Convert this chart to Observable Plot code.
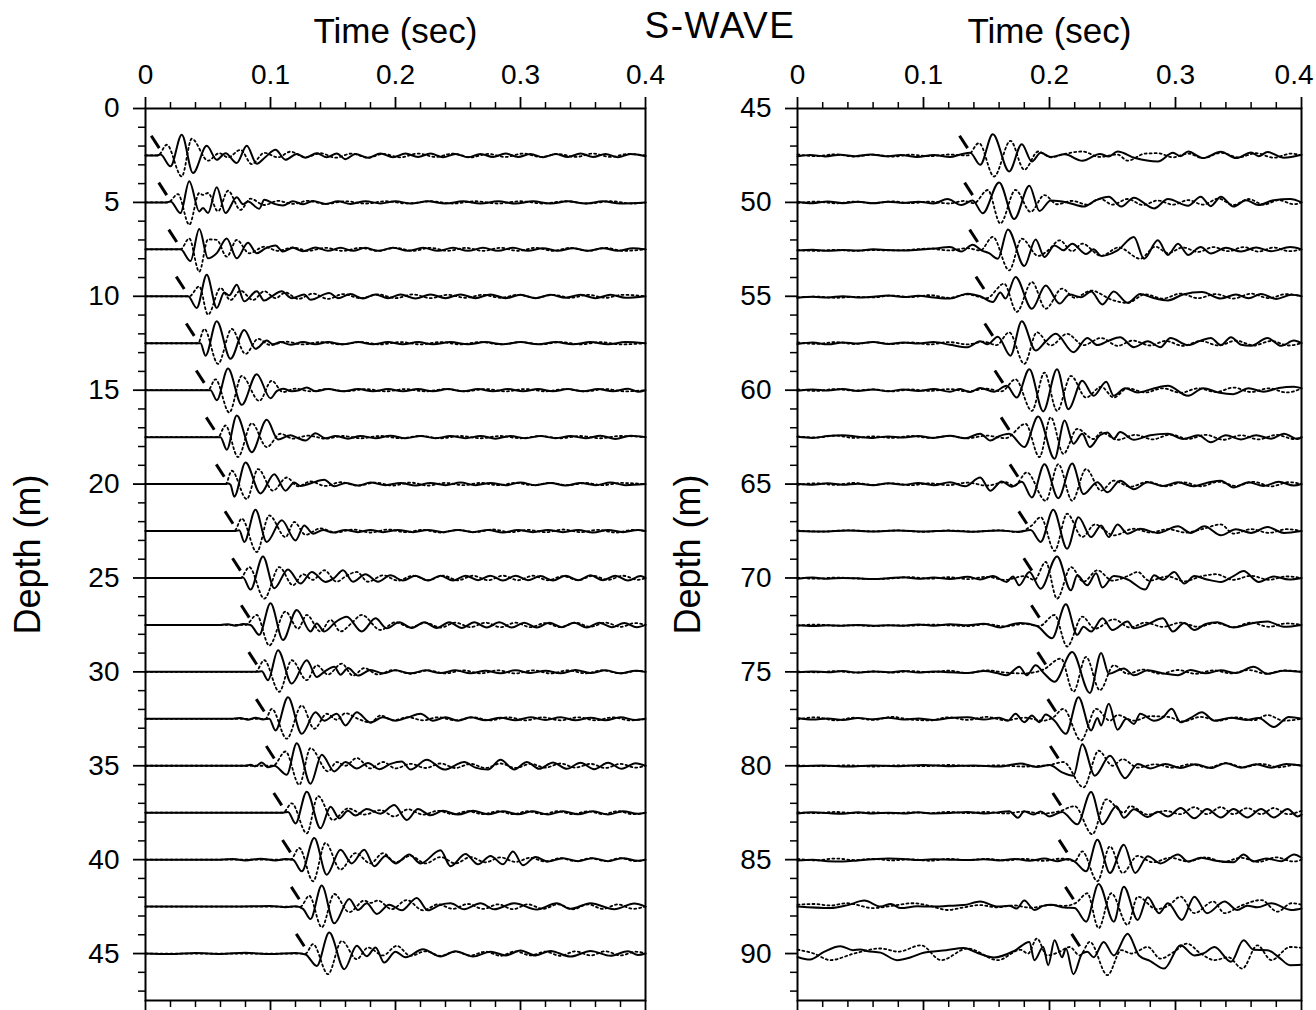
<!DOCTYPE html>
<html><head><meta charset="utf-8">
<script src="https://cdn.jsdelivr.net/npm/d3@7"></script>
<script src="https://cdn.jsdelivr.net/npm/@observablehq/plot@0.6"></script>
<style>
html,body{margin:0;padding:0;background:#fff;}
#wrap{position:relative;width:1316px;height:1010px;background:#fff;font-family:"Liberation Sans",Arial,Helvetica,sans-serif;}
#title{position:absolute;left:600px;width:240px;top:6px;text-align:center;font-size:37px;letter-spacing:1.5px;color:#000;line-height:40px;}
#left{position:absolute;left:0;top:0;}
#right{position:absolute;left:660px;top:0;}
</style></head>
<body>
<div id="wrap">
  <div id="right"></div>
  <div id="left"></div>
  <div id="title">S-WAVE</div>
</div>
<script>
// ---------------- DATA (time in ms : amplitude in cm of depth, + = up) ----------------
const leftDepths = [2.5,5,7.5,10,12.5,15,17.5,20,22.5,25,27.5,30,32.5,35,37.5,40,42.5,45];
const rightDepths = [47.5,50,52.5,55,57.5,60,62.5,65,67.5,70,72.5,75,77.5,80,82.5,85,87.5,90];
const leftArrivals = [11,17,25,31,39,47,55,63,70,76,83,89,95,103,109,116,123,127];
const rightArrivals = [135,139,143,148,155,163,168,175,182,186,192,197,205,207,209,214,219,224];

const leftSolid = [
"0:0 9:0 12:5 20:-58 29:110 38:-94 49:51 57:-23 64:12 73:-40 81:51 89:-44 96:-8 104:30 112:-23 121:8 128:-12 137:12 145:-10 153:10 160:-20 168:8 178:-12 188:10 198:-10 208:10 218:-8 228:10 238:-10 248:8 258:-10 268:8 278:-8 288:10 298:-8 308:8 318:-10 328:8 338:-8 348:10 358:-8 368:8 378:-10 388:8 400:-4",
"0:0 17:0 20:5 28:-57 35:112 43:-48 46:-30 50:-57 57:80 64:-57 73:27 78:-10 82:5 91:-34 95:14 103:-8 110:-16 118:6 126:-10 134:8 144:-8 154:6 164:-8 176:6 188:-6 200:6 212:-6 226:6 240:-6 254:6 268:-6 282:6 296:-6 310:6 324:-6 338:6 352:-6 366:6 380:-6 400:0",
"0:0 28:0 36:-62 43:108 50:-48 57:-20 65:58 73:-48 82:35 89:-21 96:5 104:20 110:-12 118:8 126:-10 136:10 146:-8 156:8 166:-8 176:8 186:-8 198:8 210:-8 222:8 234:-8 246:8 258:-8 270:8 282:-8 294:8 306:-8 318:6 330:-8 342:6 354:-8 366:6 378:-8 390:6 400:0",
"0:0 34:0 41:-62 49:115 57:-62 63:20 67:5 73:62 79:-27 89:27 95:-23 101:0 109:27 117:-10 127:10 132:-18 147:18 154:-10 164:12 174:-12 184:10 194:-10 204:10 216:-12 228:10 240:-10 252:10 264:-10 276:10 288:-10 300:8 312:-10 324:8 336:-8 348:8 360:-10 372:8 384:-8 400:0",
"0:0 44:0 48:-66 57:117 68:-83 79:71 88:-30 97:14 102:-6 108:6 116:-8 126:6 136:-6 146:6 158:-6 170:6 182:-6 194:6 206:-6 218:6 230:-6 244:6 258:-6 272:6 286:-6 300:6 314:-6 328:6 342:-6 356:6 370:-6 384:6 400:0",
"0:0 52:0 57:-53 66:115 77:-78 89:85 100:-43 105:-5 110:8 117:-6 123:0 129:14 136:-6 146:6 158:-6 170:6 182:-6 194:6 206:-6 218:6 230:-6 242:6 254:-6 266:6 278:-6 290:6 302:-6 314:6 326:-6 338:6 350:-6 362:6 374:-6 386:8 394:-8 400:0",
"0:0 60:0 65:-67 73:115 85:-80 97:92 106:-12 116:10 122:-6 128:-18 136:21 144:-6 152:6 162:-8 172:6 184:-6 196:8 208:-6 220:6 232:-6 244:6 256:-6 268:6 280:-8 292:6 304:-6 316:6 328:-6 340:6 352:-6 364:8 376:-10 388:8 400:0",
"0:0 64:0 66:3 68:-3 71:-67 80:115 92:-50 103:53 112:-35 119:9 124:-10 133:6 143:23 151:-12 160:6 170:-8 180:8 192:-6 204:6 216:-8 228:6 240:-6 252:8 264:-6 276:6 288:-6 300:8 312:-6 324:6 336:-8 348:6 360:-6 372:8 384:-6 400:0",
"0:0 72:0 75:4 79:-58 88:113 97:-58 109:57 120:-50 127:30 134:-14 142:6 150:-8 160:6 170:-6 180:6 190:-6 202:6 214:-6 226:6 238:-6 250:6 262:-6 274:6 286:-8 298:6 310:-6 322:6 334:-6 346:6 358:-8 370:6 382:-6 394:6 400:0",
"0:0 76:0 78:3 84:-62 94:115 103:-55 114:45 124:-30 133:32 144:-21 151:0 158:41 166:-20 176:20 186:-20 196:14 206:-14 216:12 226:-14 236:12 246:-14 256:12 266:-12 276:12 286:-14 296:12 306:-12 316:10 326:-14 336:12 346:-12 356:14 366:-12 376:12 386:-14 396:10 400:0",
"0:0 60:0 66:4 72:-4 78:5 84:0 91:-53 100:115 110:-80 121:80 132:-35 137:8 143:-35 152:15 161:44 173:-35 184:35 193:-18 203:14 213:-16 223:14 233:-16 243:14 253:-16 263:14 273:-14 283:14 293:-14 303:12 313:-14 323:12 333:-12 343:12 353:-14 363:12 373:-12 383:10 393:-12 400:0",
"0:0 90:0 93:3 98:-44 106:115 117:-62 129:62 137:-27 144:5 151:27 156:-15 162:20 170:-20 180:10 190:-8 200:8 212:-8 224:8 236:-6 248:8 260:-8 272:6 284:-8 296:8 308:-6 320:6 332:-8 344:10 356:-6 368:8 380:-8 392:6 400:0",
"0:0 70:0 76:5 82:-5 88:6 94:-3 99:0 104:-62 114:115 125:-80 136:35 143:-10 153:27 160:-35 169:35 180:-20 190:8 200:-10 210:8 220:27 230:-10 240:8 250:-10 260:8 272:-8 284:6 296:-8 308:8 320:-6 332:8 344:-8 356:6 368:-8 380:8 392:-6 400:0",
"0:0 80:0 84:5 88:-3 93:18 98:-8 103:0 113:-48 121:120 132:-96 141:58 151:-30 160:20 169:-15 178:15 187:-18 196:10 205:23 212:-20 225:32 239:-20 255:20 264:-10 274:-20 284:32 295:-20 305:20 315:-16 326:18 337:-16 348:16 359:-18 370:16 381:-16 392:14 400:0",
"0:0 110:0 114:4 120:-57 129:112 140:-83 148:32 155:-30 162:10 168:-15 177:20 188:-5 199:41 209:-39 218:20 228:-14 238:10 250:-10 262:10 274:-8 286:8 298:-8 310:8 322:-10 334:8 346:-8 358:8 370:-10 382:8 394:-6 400:0",
"0:0 60:0 70:4 80:-4 92:5 104:-4 112:4 118:0 125:-62 135:115 145:-80 156:53 165:-20 175:53 183:-35 192:20 200:-20 211:27 220:-20 236:50 244:-35 256:30 266:-25 276:20 286:-25 294:44 302:-30 312:14 322:-10 334:8 346:-8 358:8 370:-8 382:8 394:-6 400:0",
"0:0 70:0 100:3 112:-3 120:2 126:-12 132:-66 141:112 151:-89 163:41 170:-18 177:18 185:-39 195:10 205:-20 217:46 226:-20 236:10 244:18 255:-14 268:18 279:-14 295:18 313:-16 329:18 340:-12 356:18 375:-14 391:16 400:0",
"0:0 20:-3 40:3 60:-2 80:4 100:-3 120:3 128:-5 137:-66 147:112 159:-83 169:41 177:-14 184:32 191:-48 200:10 208:-20 222:23 236:-16 248:12 262:-16 276:10 288:-10 300:16 312:-10 324:14 340:-16 356:14 372:-12 386:12 394:-8 400:0"
];

const leftDotted = [
"0:0 10:0 17:57 29:-112 37:89 50:-28 59:12 66:-10 76:30 85:-46 95:14 106:-10 116:20 128:-10 140:12 152:-12 165:10 178:-12 190:8 204:-10 218:10 232:-8 246:10 260:-10 274:8 288:-8 302:10 316:-8 330:8 344:-8 358:10 372:-8 386:8 400:0",
"0:0 18:0 26:44 35:-119 43:50 46:40 50:50 58:-48 66:62 76:-40 84:20 95:-14 106:8 118:-8 130:8 144:-8 160:6 176:-6 192:6 210:-6 228:6 246:-6 264:6 282:-6 300:6 318:-6 336:6 354:-6 372:6 390:-6 400:0",
"0:0 28:0 35:58 43:-119 50:53 57:50 65:-39 73:50 83:-21 95:14 106:-8 118:10 130:-8 144:8 158:-8 172:8 186:-8 200:8 214:-8 228:8 242:-8 256:8 270:-8 284:8 298:-8 312:8 326:-8 340:8 354:-8 368:8 382:-8 400:0",
"0:0 35:0 43:53 50:-98 60:44 68:-20 76:30 86:-20 95:27 104:-10 112:20 122:-14 134:14 146:-14 158:12 172:-10 186:10 200:-10 214:10 228:-10 242:8 256:-8 270:8 284:-8 298:8 312:-8 326:8 340:-8 354:8 368:-8 382:8 400:0",
"0:0 42:0 47:76 58:-110 69:76 80:-57 90:23 100:-10 112:8 126:-6 140:6 156:-6 172:6 188:-6 204:6 220:-6 236:6 252:-6 268:6 284:-6 300:6 316:-6 332:6 348:-6 364:6 380:-6 400:0",
"0:0 50:0 56:58 67:-119 77:76 91:-57 101:50 110:-10 120:8 132:-6 146:6 160:-6 176:6 192:-6 208:6 224:-6 240:6 256:-6 272:6 288:-6 304:6 320:-6 336:6 352:-6 368:6 384:-6 400:0",
"0:0 58:0 64:62 74:-106 85:74 97:-53 108:18 118:-8 130:8 144:-8 158:6 172:-6 188:6 204:-6 220:6 236:-6 252:6 268:-6 284:6 300:-6 316:6 332:-6 348:6 364:-6 380:6 400:0",
"0:0 64:0 69:71 81:-80 90:80 102:-35 113:35 122:-12 132:14 144:-10 156:10 170:-8 184:8 198:-8 212:8 226:-8 240:6 254:-6 268:6 282:-6 296:6 310:-6 324:6 338:-6 352:6 366:-6 380:6 400:0",
"0:0 71:0 77:66 89:-112 99:83 112:-32 119:48 128:-20 140:14 152:-8 166:8 180:-8 194:8 208:-6 222:6 236:-8 250:6 264:-6 278:8 292:-6 306:6 320:-6 334:8 348:-6 362:6 376:-8 390:6 400:0",
"0:0 76:0 83:58 95:-110 107:58 118:-39 126:20 134:-10 143:41 153:-20 160:8 169:32 178:-20 190:14 202:-14 214:12 226:-12 238:12 250:-12 262:12 274:-12 286:12 298:-12 310:12 322:-12 334:10 346:-12 358:12 370:-10 382:12 394:-10 400:0",
"0:0 80:0 89:53 99:-110 112:71 122:-20 129:53 140:-35 148:27 156:-35 165:10 173:53 188:-27 200:14 212:-14 224:12 236:-14 248:12 260:-12 272:12 284:-12 296:12 308:-12 320:10 332:-12 344:12 356:-10 368:12 380:-10 392:10 400:0",
"0:0 88:0 95:62 107:-106 117:62 129:-44 137:35 146:-14 157:44 166:-20 175:20 186:-14 198:10 212:-10 226:8 240:-8 254:8 268:-8 282:8 296:-8 310:8 324:-8 338:8 352:-8 366:8 380:-8 394:6 400:0",
"0:0 96:0 101:53 113:-106 125:71 135:-53 145:27 153:-5 160:30 170:0 180:-20 188:18 198:-8 210:8 222:-8 234:8 248:-8 262:8 276:-8 290:8 304:-8 318:8 332:-8 346:8 360:-8 374:8 388:-8 400:0",
"0:0 102:0 112:76 123:-101 132:94 146:-30 153:20 160:0 169:41 180:-14 190:20 200:-14 212:10 224:-12 236:12 248:-12 260:10 272:-12 284:12 296:-12 308:10 320:-10 332:12 344:-10 356:10 368:-12 380:10 392:-10 400:0",
"0:0 110:0 117:50 129:-110 138:89 150:-39 162:23 175:-10 188:14 199:-20 210:18 222:-10 234:10 246:-8 258:8 270:-8 282:8 294:-8 306:8 318:-8 330:8 342:-8 354:8 366:-8 378:8 390:-8 400:0",
"0:0 116:0 123:62 134:-115 144:89 156:-53 168:35 180:-20 190:35 200:-14 212:20 224:-20 236:14 248:-20 260:14 272:-14 284:12 296:-12 308:10 320:-10 332:8 344:-8 356:8 368:-8 380:8 392:-8 400:0",
"0:0 124:0 131:58 141:-110 151:67 163:-30 175:32 180:20 186:32 197:-14 209:35 222:-20 234:12 246:-12 258:14 270:-12 282:12 294:-14 306:12 318:-12 330:12 342:-14 354:12 366:-12 378:12 390:-12 400:0",
"0:0 128:0 134:50 146:-110 157:67 169:-30 178:32 190:-10 201:41 212:-12 224:12 236:-12 248:10 260:-10 272:10 284:-12 296:12 308:-10 320:10 332:-12 344:12 356:-10 368:12 380:-10 392:10 400:0"
];

const rightSolid = [
"0:-5 10:3 22:-5 34:4 46:-4 58:5 70:-4 82:2 95:-8 108:2 121:-8 130:6 137:14 145:-50 155:113 168:-85 178:60 186:-32 193:14 201:-8 212:6 226:-28 240:8 247:-6 254:21 268:-14 286:-32 298:14 304:-4 310:21 322:-14 336:20 348:-14 360:16 366:-4 373:18 386:-12 400:4",
"0:4 12:-4 24:5 36:-4 48:4 60:-5 72:4 84:-3 96:4 108:-6 119:18 130:-14 139:10 147:-58 160:106 172:-89 184:89 192:-46 201:10 214:0 227:-22 237:12 247:30 257:-22 267:25 283:-32 294:18 310:-18 320:30 328:-20 336:30 346:-22 356:12 366:-14 378:12 391:18 400:0",
"0:-6 12:-2 24:-8 36:-4 48:-6 60:0 72:-4 84:-6 96:-2 108:4 121:12 130:-12 139:25 146:-5 152:-20 159:-50 167:106 180:-89 189:53 196:-41 204:21 211:-5 218:30 229:-25 235:0 241:-35 254:-5 267:66 275:-50 286:48 294:-30 302:30 310:-30 320:12 328:-22 340:8 352:-12 364:10 376:-10 391:12 400:0",
"0:-8 12:-3 24:-6 36:0 48:-6 60:-2 72:4 84:-4 96:3 108:-6 121:-12 135:14 145:0 155:-30 161:20 165:-12 173:103 186:-66 197:58 208:-39 216:10 225:-5 233:25 242:-44 251:25 262:-35 272:12 282:-8 294:-22 306:10 321:23 336:-12 348:10 358:-10 368:12 380:-14 392:8 400:0",
"0:-4 12:4 24:-6 36:4 48:-2 60:6 72:-4 84:4 96:-2 108:6 121:-8 135:-21 145:10 151:-5 159:35 169:-66 178:117 189:-39 197:10 205:50 219:-48 230:28 238:-10 247:14 256:32 267:-21 278:10 288:-21 296:28 310:-10 320:14 328:28 336:-10 344:32 352:-8 360:-14 373:28 384:-14 394:14 400:0",
"0:-3 12:4 24:-2 36:6 48:-4 60:4 72:-6 84:4 96:-4 108:6 121:-8 129:6 137:-10 145:12 156:-8 166:23 174:-39 184:112 195:-113 206:112 215:-101 226:50 235:-30 245:45 251:-30 260:10 270:-12 282:8 294:23 310:-30 322:10 334:-12 346:-21 358:10 370:-8 382:12 394:18 400:10",
"0:2 12:-4 24:6 36:10 48:2 60:-4 72:4 84:-2 96:6 108:-4 121:8 133:-6 145:18 153:-18 160:5 168:18 180:-53 191:110 204:-115 212:89 219:-35 226:18 232:-53 240:10 246:25 251:-8 256:27 267:-14 280:10 294:18 306:-10 318:10 328:-27 340:10 352:-12 364:10 376:-8 386:18 397:-10 400:0",
"0:2 12:-4 24:4 36:-4 48:2 60:-6 72:4 84:-4 96:6 108:-6 121:10 133:-12 145:35 153:-35 162:14 170:-14 178:12 186:-71 196:106 207:-75 218:110 227:-53 238:10 246:-44 256:18 267:-27 278:10 290:-10 302:10 314:-12 326:8 336:18 346:-18 358:10 370:-10 382:12 394:-8 400:0",
"0:0 20:-3 40:3 60:-2 80:3 100:-3 120:2 140:-4 160:3 175:-4 185:5 193:-58 203:113 214:-94 223:74 233:-32 241:30 247:-32 254:35 262:-14 272:12 286:-10 302:25 312:-10 323:25 336:-23 348:10 360:-10 373:21 386:-10 400:0",
"0:-4 12:2 24:-4 36:0 48:-2 60:-6 72:-2 84:4 96:-4 108:2 121:-6 135:6 145:-8 155:10 166:-21 171:8 176:-39 184:32 193:-57 206:115 217:-66 222:14 230:-39 237:25 242:-51 251:10 262:-8 276:-62 283:14 290:-10 299:32 307:-30 315:10 325:-8 336:-21 346:10 354:37 366:-21 378:8 390:-8 400:0",
"0:-2 12:-6 24:-2 36:-4 48:0 60:-4 72:-2 84:-4 96:2 108:-4 121:4 135:-2 148:6 161:-14 170:2 177:10 190:-6 202:-71 213:110 222:-53 227:-10 233:-35 242:35 250:-27 262:18 267:-18 278:5 290:35 298:-35 307:10 315:-27 324:5 333:14 346:-14 360:8 373:18 386:-10 400:0",
"0:-2 12:2 24:-2 36:4 48:-4 60:2 72:-2 84:4 96:-4 108:2 121:-2 135:-6 148:4 158:-6 166:-18 176:27 182:-18 189:35 196:-10 204:-53 218:106 232:-112 241:101 247:-10 259:18 267:-18 278:8 290:-8 302:-18 312:10 324:-8 336:8 348:-6 362:27 373:-10 386:6 400:0",
"0:4 12:-4 24:2 36:-6 48:4 60:-2 72:6 84:-4 96:2 108:-6 121:4 135:8 148:-4 160:6 167:-10 173:27 180:-18 186:18 192:-18 197:23 204:-10 213:-80 223:115 233:-62 238:5 241:-35 247:80 254:-58 261:0 267:-27 272:27 283:-10 290:8 297:53 304:-18 312:5 321:35 331:-10 344:6 356:-6 366:4 378:-44 390:10 400:0",
"0:-2 20:2 40:-4 60:2 80:-2 100:4 120:-2 140:2 160:-4 177:12 190:-6 200:4 210:-35 219:-53 226:115 236:-53 248:53 260:-66 270:10 280:-14 292:10 304:-12 316:8 328:-12 340:14 352:-10 364:8 376:-10 388:10 400:0",
"0:-4 12:2 24:-2 36:-6 48:2 60:-4 72:0 84:-4 96:2 108:-4 121:-2 135:4 148:-4 160:2 168:8 175:-27 180:8 187:-10 193:6 200:-20 210:4 222:-62 233:110 242:-62 253:35 259:-27 267:18 278:-23 286:5 294:-20 304:25 315:-30 325:20 336:-25 346:20 357:-25 368:20 378:-25 389:20 397:-20 400:-10",
"0:-4 12:0 24:-8 36:-10 48:-4 60:2 72:6 84:4 96:-2 108:2 121:0 135:-2 148:2 160:-4 172:4 184:-6 196:6 206:-8 215:4 220:-10 229:-62 238:106 248:-71 259:80 268:-71 278:18 288:-20 302:27 310:-10 320:10 332:-6 346:-14 354:27 362:-10 372:6 384:-8 394:27 400:10",
"0:0 26:-8 40:8 53:32 66:0 74:14 82:-8 95:2 106:0 120:4 132:8 145:27 159:0 168:5 174:-10 180:32 188:-18 195:4 201:10 212:-5 220:-8 229:-80 239:120 251:-80 259:106 270:-71 278:50 287:-35 294:18 305:-71 315:53 325:-35 339:27 349:-18 357:5 365:-4 376:18 392:-18 400:-10",
"0:-18 10:-32 21:9 34:39 44:18 50:22 55:14 66:5 79:-35 90:-20 100:4 118:18 132:30 144:0 156:-21 172:14 184:62 188:-35 195:35 199:-62 204:71 210:-20 213:27 219:-110 226:0 230:10 235:-20 243:62 251:-10 262:106 271:-10 280:-40 291:-80 304:44 315:-10 322:0 331:35 344:-44 354:71 362:20 373:18 382:-20 391:-62 400:-60"
];

const rightDotted = [
"0:6 15:-4 30:6 45:-6 60:4 75:-6 90:4 105:-4 120:5 135:0 144:66 156:-112 169:78 180:-76 191:21 201:-10 212:8 226:21 240:-8 254:5 262:-28 276:10 286:12 298:-10 310:10 322:-14 336:14 350:-10 364:12 378:-12 392:10 400:0",
"0:-4 15:4 30:-5 45:4 60:-4 75:5 90:-4 105:4 120:-6 132:8 140:-4 151:66 161:-112 173:66 185:-50 196:39 206:-10 218:8 230:-12 240:20 250:-12 262:18 274:-14 286:10 298:-12 310:12 322:-12 334:20 346:-14 358:18 370:-12 382:12 394:-10 400:0",
"0:-4 15:-8 30:-3 45:-8 60:-4 75:-6 90:-2 105:4 120:-6 135:6 145:-6 155:66 168:-112 178:57 191:-35 199:-5 208:48 218:-10 226:30 241:-35 255:10 272:-50 284:14 294:-20 306:10 318:-14 330:12 342:-10 354:12 366:-12 378:10 390:-10 400:0",
"0:-6 15:-2 30:-8 45:-3 60:-6 75:4 90:-4 105:6 120:-8 135:10 150:-10 164:67 174:-83 186:76 197:-66 210:41 220:-8 233:30 250:-20 262:-35 276:10 290:-12 304:14 318:-10 332:12 346:-12 360:14 374:-10 388:12 400:0",
"0:4 15:-4 30:6 45:-4 60:6 75:-4 90:4 105:-6 120:6 135:-6 148:8 158:-10 168:58 180:-110 190:58 201:-12 214:50 227:-10 241:28 254:-14 266:14 280:-12 292:12 306:-14 320:12 334:-12 348:14 362:-12 376:12 390:-12 400:0",
"0:4 15:-4 30:6 45:-2 60:4 75:-6 90:4 105:-4 120:6 135:-6 150:8 162:-6 173:58 186:-110 196:94 206:-110 217:76 229:-39 241:18 251:-39 262:10 276:-12 290:10 304:-14 318:10 332:-10 346:14 360:-10 374:10 388:-12 400:8",
"0:4 15:-2 30:8 45:-4 60:4 75:-4 90:6 105:-4 120:6 135:-6 150:8 165:-6 181:71 192:-106 201:106 211:-89 222:44 235:-10 241:25 254:-14 268:12 282:-12 296:14 310:-10 324:12 338:-14 352:10 366:-12 380:12 394:-10 400:0",
"0:-4 15:4 30:-4 45:6 60:-4 75:4 90:-6 105:4 120:-6 135:8 150:-8 165:10 172:-10 182:62 197:-89 207:106 218:-89 229:80 241:-35 251:18 264:-14 278:12 292:-12 306:10 320:-12 334:12 348:-10 362:12 376:-12 390:10 400:0",
"0:2 20:-3 40:4 60:-2 80:3 100:-4 120:3 140:-3 160:4 175:-6 186:30 193:74 204:-106 214:92 226:-32 236:35 251:-23 267:12 280:-8 294:10 308:-8 322:12 336:35 346:-14 360:10 374:-10 388:10 400:0",
"0:2 15:-4 30:2 45:-2 60:-6 75:-2 90:4 105:-4 120:4 135:-6 150:6 165:-10 180:10 188:-10 197:85 206:-110 217:58 227:-20 238:41 250:-14 262:10 270:32 279:-14 294:8 307:-18 320:8 332:20 346:-10 360:12 374:-10 388:8 400:0",
"0:-4 15:2 30:-4 45:-2 60:-6 75:-2 90:-4 105:2 120:-2 135:-6 150:4 165:-8 180:6 192:-6 204:53 214:-115 226:44 236:-20 251:30 264:-14 276:12 290:-10 304:12 318:-10 332:10 346:-12 360:12 374:-10 388:8 400:0",
"0:2 15:-2 30:4 45:-4 60:2 75:-4 90:4 105:-2 120:6 135:-6 150:8 165:-4 180:-8 195:12 209:71 219:-106 229:80 240:-98 251:35 262:-10 274:12 288:-10 302:10 316:-10 330:8 344:-8 358:10 372:-10 386:8 400:0",
"0:-4 15:8 30:-8 45:6 60:-6 75:10 90:-4 105:-8 120:8 135:-6 150:10 165:-8 180:6 195:-10 203:8 211:53 225:-115 237:53 248:-10 254:20 267:-10 280:14 294:10 306:-14 320:10 334:-10 348:8 362:-8 373:20 386:-10 400:0",
"0:2 20:-2 40:2 60:-4 80:2 100:-2 120:4 140:-2 160:2 180:-4 200:4 211:20 227:-115 239:80 250:0 258:35 270:-10 284:8 298:-10 312:8 326:-10 340:14 354:-8 368:10 382:-8 396:6 400:0",
"0:2 15:-2 30:4 45:-2 60:2 75:-4 90:2 105:-2 120:4 135:-2 150:4 165:-4 180:6 195:-4 208:8 220:35 234:-115 245:71 259:0 264:35 278:-10 292:10 304:-8 315:30 325:-8 336:30 346:-8 357:25 368:-8 378:25 389:-8 400:10",
"0:4 15:-4 30:6 45:-2 60:4 75:-4 90:2 105:-6 120:4 135:-2 150:4 165:-4 180:4 195:-6 210:6 220:-8 226:44 238:-115 248:71 258:-71 270:20 282:-14 296:10 310:-10 324:12 338:-12 352:10 366:-12 380:12 394:-10 400:0",
"0:10 13:14 26:6 39:18 60:-8 75:4 92:18 105:4 119:-18 132:-4 145:8 158:-4 172:6 185:-6 200:8 212:4 221:20 230:71 239:-115 249:71 262:-97 270:53 285:-14 295:8 304:53 315:-35 330:27 339:-35 352:5 368:35 381:-27 392:18 400:10",
"0:21 13:0 26:-35 45:0 66:27 80:10 98:44 114:-35 135:27 159:-35 177:20 183:0 190:80 198:-10 208:10 216:35 224:-10 232:62 246:-115 257:18 265:0 278:35 288:-27 299:10 309:53 320:0 331:-35 342:-20 353:-80 365:44 376:-35 391:35 400:30"
];

const timeTicks = [0, 0.1, 0.2, 0.3, 0.4];
const timeMinorTicks = [0.02,0.04,0.06,0.08,0.12,0.14,0.16,0.18,0.22,0.24,0.26,0.28,0.32,0.34,0.36,0.38];
const leftDepthTicks = [0,5,10,15,20,25,30,35,40,45];
const rightDepthTicks = [45,50,55,60,65,70,75,80,85,90];

// ---------------- BUILD ----------------
const FONT = '"Liberation Sans", Arial, Helvetica, sans-serif';
const TICK_FONT = 28;

function parseSeries(str) {
  return str.trim().split(/\s+/).map(p => {
    const [t, a] = p.split(":").map(Number);
    return {t: t / 1000, a: a / 100};
  });
}

function panel({depths, arrivals, solid, dotted, domain, majorTicks, width, marginLeft, endLabelInside}) {
  const rows = series => series.flatMap((s, i) =>
    parseSeries(s).map(p => ({t: p.t, y: depths[i] - p.a, trace: i})));
  const solidRows = rows(solid);
  const dottedRows = rows(dotted);
  const picks = arrivals.map((ms, i) => ({
    x1: ms / 1000 - 0.0064, y1: depths[i] - 1.05,
    x2: ms / 1000, y2: depths[i] - 0.39
  }));
  const minorY = d3.range(Math.ceil(domain[0]), Math.floor(domain[1]) + 1).filter(v => v % 5 !== 0);
  const lastTick = timeTicks[timeTicks.length - 1];
  const fmt = endLabelInside ? (d => d === lastTick ? "" : String(d)) : (d => String(d));
  return Plot.plot({
    width, height: 1010,
    marginTop: 108, marginBottom: 10, marginLeft, marginRight: 15,
    x: {domain: [0, 0.4]},
    y: {domain, reverse: true},
    style: {fontFamily: FONT, fontSize: TICK_FONT + "px", color: "#000", background: "transparent", overflow: "visible"},
    marks: [
      Plot.line(dottedRows, {x: "t", y: "y", z: "trace", curve: "monotone-x", stroke: "#000", strokeWidth: 1.8, strokeDasharray: "2,3"}),
      Plot.line(solidRows, {x: "t", y: "y", z: "trace", curve: "monotone-x", stroke: "#000", strokeWidth: 2}),
      Plot.link(picks, {x1: "x1", y1: "y1", x2: "x2", y2: "y2", stroke: "#000", strokeWidth: 3}),
      Plot.axisX(timeTicks, {anchor: "top", tickSize: 12, tickPadding: 13, tickFormat: fmt, label: null, strokeWidth: 1.8, fontSize: TICK_FONT}),
      endLabelInside
        ? Plot.axisX([lastTick], {anchor: "top", tickSize: 0, tickPadding: 25, tickFormat: d => String(d), label: null, fontSize: TICK_FONT, textAnchor: "end", dx: 12})
        : null,
      Plot.axisX(timeMinorTicks, {anchor: "top", tickSize: 7, tickFormat: () => "", label: null, strokeWidth: 1.5}),
      Plot.axisX(timeTicks, {anchor: "bottom", tickSize: 12, tickFormat: () => "", label: null, strokeWidth: 1.8}),
      Plot.axisX(timeMinorTicks, {anchor: "bottom", tickSize: 7, tickFormat: () => "", label: null, strokeWidth: 1.5}),
      Plot.axisY(majorTicks, {anchor: "left", tickSize: 12, tickPadding: 14, tickFormat: d => String(d), label: null, strokeWidth: 1.8, fontSize: TICK_FONT}),
      Plot.axisY(minorY, {anchor: "left", tickSize: 7, tickFormat: () => "", label: null, strokeWidth: 1.5}),
      Plot.frame({stroke: "#000", strokeWidth: 2}),
      Plot.text(["Time (sec)"], {text: d => d, frameAnchor: "top", dy: -77, fontSize: 35, lineAnchor: "middle"}),
      Plot.text(["Depth (m)"], {text: d => d, frameAnchor: "left", dx: -(marginLeft - 28), rotate: -90, fontSize: 36, lineAnchor: "middle", textAnchor: "middle"})
    ]
  });
}

document.getElementById("left").appendChild(panel({
  depths: leftDepths, arrivals: leftArrivals, solid: leftSolid, dotted: leftDotted,
  domain: [0, 47.5], majorTicks: leftDepthTicks, width: 660, marginLeft: 145, endLabelInside: false
}));
document.getElementById("right").appendChild(panel({
  depths: rightDepths, arrivals: rightArrivals, solid: rightSolid, dotted: rightDotted,
  domain: [45, 92.5], majorTicks: rightDepthTicks, width: 656, marginLeft: 137, endLabelInside: true
}));
</script>
</body></html>
